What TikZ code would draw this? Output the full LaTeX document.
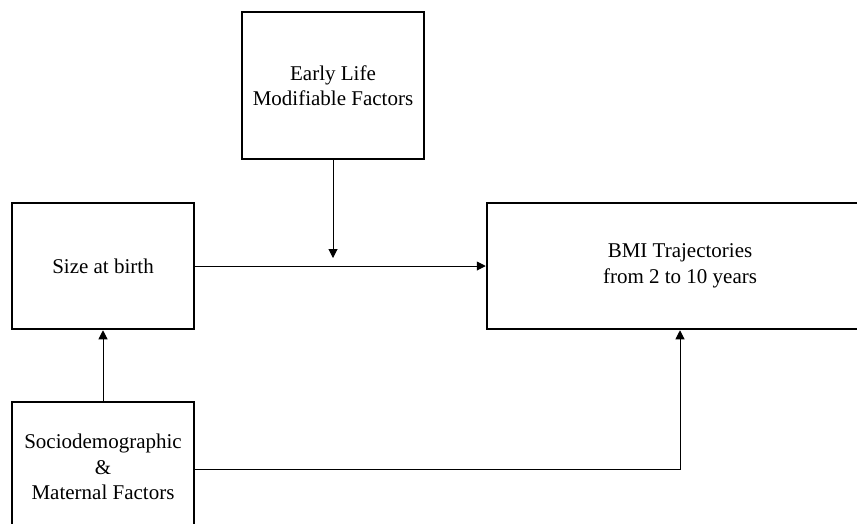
\documentclass[tikz,border=0pt]{standalone}
\usepackage{fontspec}
\setmainfont{Liberation Serif}
\usetikzlibrary{arrows.meta}
\begin{document}
\begin{tikzpicture}[x=1pt,y=-1pt,
  factorbox/.style={draw, line width=2.5pt, rectangle, inner sep=0pt,
    align=center, font=\fontsize{21}{25.5}\selectfont},
  link/.style={line width=1pt, -{Triangle[length=9pt,width=9pt]}}]
  \useasboundingbox (0,0) rectangle (857,523);
  \clip (0,0) rectangle (857,523);
  % factor boxes
  \node[factorbox, minimum width=182pt, minimum height=147pt] (early) at (333,85.5)
    {Early Life\\Modifiable Factors};
  \node[factorbox, minimum width=182pt, minimum height=126pt] (size) at (103,266)
    {Size at birth};
  \node[factorbox, minimum width=386pt, minimum height=126pt] (bmi) at (680,266)
    {BMI Trajectories\\from 2 to 10 years};
  \node[factorbox, minimum width=182pt, minimum height=130pt] (socio) at (103,467)
    {Sociodemographic\\\&\\Maternal Factors};
  % free end of the moderating arrow, just above the main path
  \coordinate (mod) at (333,258);
  % connectors
  \draw[link] (size.east) -- (bmi.west);
  \draw[link] (early.south) -- (mod);
  \draw[link] (socio.north) -- (size.south);
  \draw[link] ([yshift=-2pt]socio.east) -| (bmi.south);
\end{tikzpicture}
\end{document}
